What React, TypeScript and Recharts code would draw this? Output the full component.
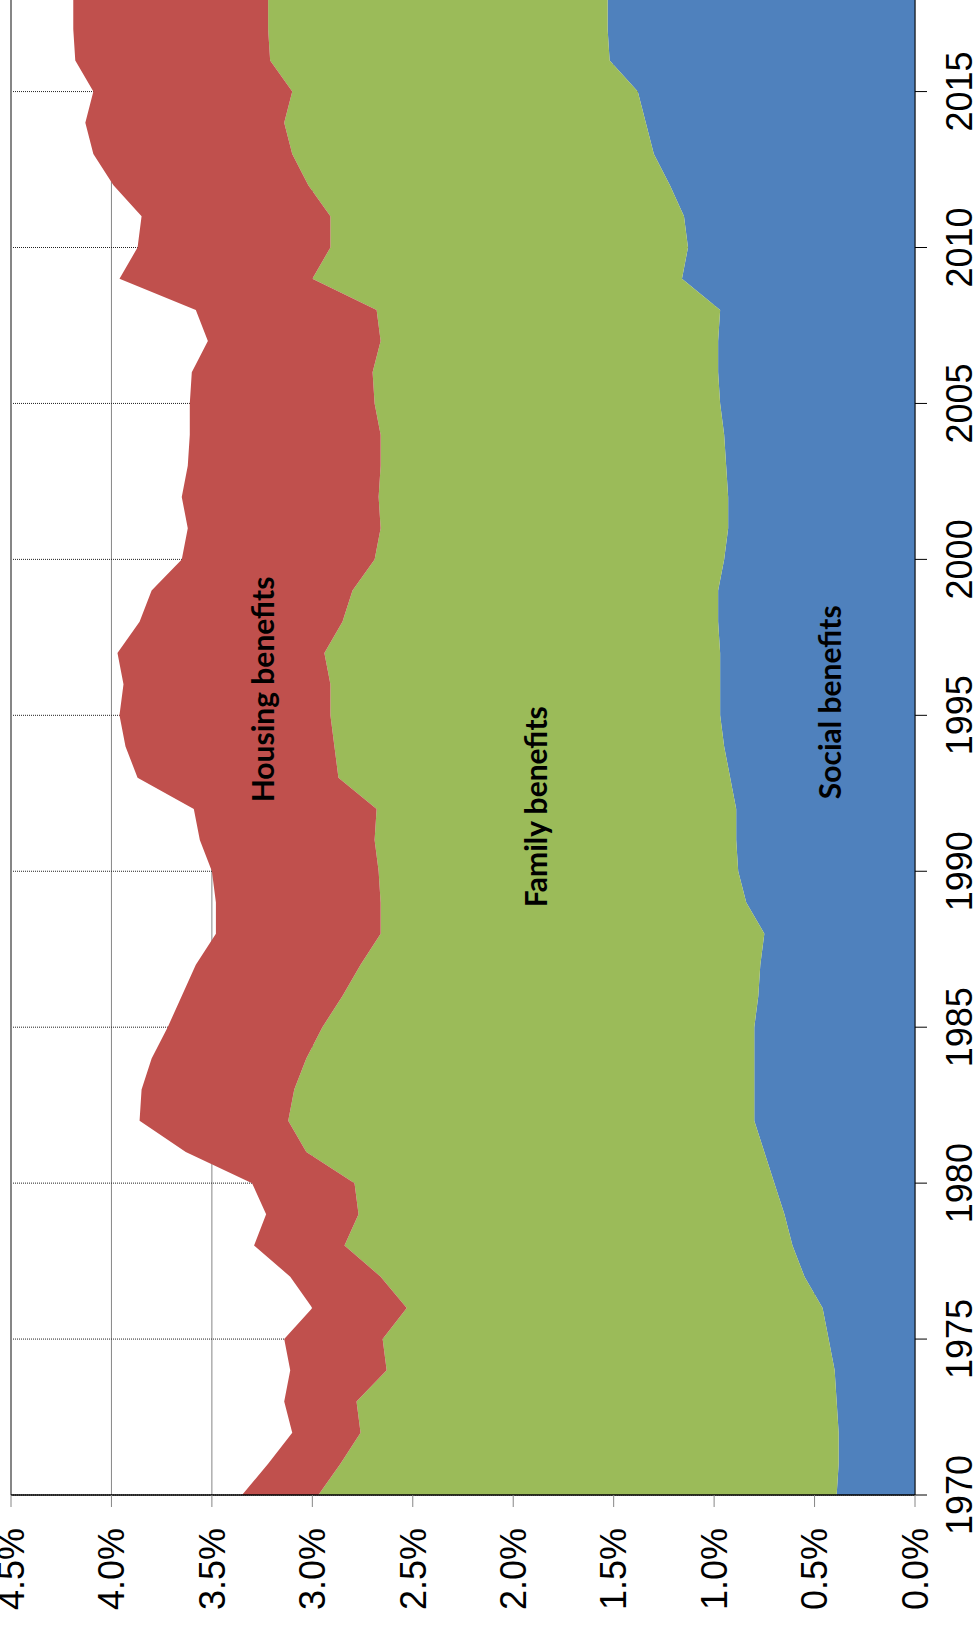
import { AreaChart, Area, XAxis, YAxis, CartesianGrid, ReferenceLine, ReferenceDot } from "recharts";

// values, % of GDP, stacked bottom→top: social, family, housing
const YEARS = [
  1970, 1971, 1972, 1973, 1974, 1975, 1976, 1977, 1978, 1979,
  1980, 1981, 1982, 1983, 1984, 1985, 1986, 1987, 1988, 1989,
  1990, 1991, 1992, 1993, 1994, 1995, 1996, 1997, 1998, 1999,
  2000, 2001, 2002, 2003, 2004, 2005, 2006, 2007, 2008, 2009,
  2010, 2011, 2012, 2013, 2014, 2015, 2016, 2017, 2018,
];

const SOCIAL = [
  0.39, 0.38, 0.38, 0.39, 0.4, 0.43, 0.46, 0.55, 0.61, 0.65,
  0.7, 0.75, 0.8, 0.8, 0.8, 0.8, 0.78, 0.77, 0.75, 0.84,
  0.88, 0.89, 0.89, 0.92, 0.95, 0.97, 0.97, 0.97, 0.98, 0.98,
  0.95, 0.93, 0.93, 0.94, 0.95, 0.97, 0.98, 0.98, 0.97, 1.16,
  1.13, 1.15, 1.22, 1.3, 1.34, 1.38, 1.52, 1.53, 1.53,
];

const FAMILY = [
  2.58, 2.48, 2.38, 2.39, 2.23, 2.22, 2.07, 2.11, 2.23, 2.12,
  2.09, 2.28, 2.32, 2.29, 2.23, 2.15, 2.07, 1.99, 1.91, 1.82,
  1.79, 1.8, 1.79, 1.95, 1.94, 1.94, 1.94, 1.97, 1.87, 1.82,
  1.74, 1.73, 1.74, 1.72, 1.71, 1.72, 1.72, 1.68, 1.71, 1.84,
  1.78, 1.76, 1.8, 1.8, 1.8, 1.72, 1.69, 1.69, 1.69,
];

const HOUSING = [
  0.38, 0.36, 0.34, 0.36, 0.48, 0.49, 0.47, 0.45, 0.45, 0.46,
  0.51, 0.6, 0.74, 0.76, 0.77, 0.77, 0.8, 0.82, 0.82, 0.82,
  0.83, 0.87, 0.91, 1.0, 1.04, 1.05, 1.03, 1.03, 1.01, 1.0,
  0.96, 0.96, 0.98, 0.96, 0.95, 0.92, 0.9, 0.86, 0.9, 0.96,
  0.96, 0.94, 0.97, 0.99, 0.99, 0.99, 0.97, 0.97, 0.97,
];

const YEAR_TICKS = [1970, 1975, 1980, 1985, 1990, 1995, 2000, 2005, 2010, 2015];
const PCT_TICKS = [0, 0.5, 1, 1.5, 2, 2.5, 3, 3.5, 4, 4.5];

const data = YEARS.map((year, i) => ({
  year,
  social: SOCIAL[i],
  family: FAMILY[i],
  housing: HOUSING[i],
}));

const AXIS_FONT = "'Liberation Sans', Arial, sans-serif";
const LABEL_FONT = "Lato, 'Open Sans', sans-serif";

// area names are drawn as plain svg text at a data anchor
function areaLabel(text: string) {
  return (p: { cx?: number; cy?: number }) => (
    <text
      x={p.cx}
      y={p.cy}
      textAnchor="middle"
      fontFamily={LABEL_FONT}
      fontWeight={700}
      fontSize={30}
      fill="#000"
    >
      {text}
    </text>
  );
}

/**
 * Stacked area chart drawn the normal way (years across) and then turned
 * a quarter turn counter-clockwise, as in the original scan.
 */
export default function App() {
  return (
    <div
      style={{
        position: "absolute",
        left: 0,
        top: 0,
        width: 979,
        height: 1627,
        overflow: "hidden",
        background: "#fff",
      }}
    >
      <div
        style={{
          position: "absolute",
          left: 0,
          top: 0,
          width: 1629,
          height: 979,
          transformOrigin: "0 0",
          transform: "translate(0px, 1627px) rotate(-90deg)",
        }}
      >
        <AreaChart width={1629} height={979} data={data} margin={{ top: 11, right: 0, bottom: 0, left: 0 }}>
          <CartesianGrid vertical={false} stroke="#868686" strokeWidth={1} />
          <CartesianGrid horizontal={false} stroke="#222" strokeDasharray="1 1" strokeWidth={1} />
          <XAxis
            dataKey="year"
            type="number"
            domain={[1970, 2018]}
            ticks={YEAR_TICKS}
            height={64}
            tickSize={12}
            tickMargin={19}
            axisLine={{ stroke: "#000", strokeWidth: 1 }}
            tickLine={{ stroke: "#000" }}
            tick={{ fill: "#000", fontSize: 36, fontFamily: AXIS_FONT }}
            interval={0}
          />
          <YAxis
            type="number"
            domain={[0, 4.5]}
            ticks={PCT_TICKS}
            width={132}
            tickSize={12}
            tickMargin={21}
            axisLine={{ stroke: "#000", strokeWidth: 1.5 }}
            tickLine={{ stroke: "#868686" }}
            tick={{ fill: "#000", fontSize: 36, fontFamily: AXIS_FONT }}
            tickFormatter={(v: number) => `${v.toFixed(1)}%`}
            interval={0}
          />
          <Area
            type="linear"
            dataKey="social"
            stackId="a"
            fill="#4F81BD"
            fillOpacity={1}
            stroke="none"
            isAnimationActive={false}
            dot={false}
            activeDot={false}
          />
          <Area
            type="linear"
            dataKey="family"
            stackId="a"
            fill="#9BBB59"
            fillOpacity={1}
            stroke="none"
            isAnimationActive={false}
            dot={false}
            activeDot={false}
          />
          <Area
            type="linear"
            dataKey="housing"
            stackId="a"
            fill="#C0504D"
            fillOpacity={1}
            stroke="none"
            isAnimationActive={false}
            dot={false}
            activeDot={false}
          />
          <ReferenceLine y={4.5} stroke="#868686" strokeWidth={2} />
          <ReferenceDot x={1995.83} y={3.19} r={0} shape={areaLabel("Housing benefits")} />
          <ReferenceDot x={1992.07} y={1.83} r={0} shape={areaLabel("Family benefits")} />
          <ReferenceDot x={1995.42} y={0.37} r={0} shape={areaLabel("Social benefits")} />
        </AreaChart>
      </div>
    </div>
  );
}
